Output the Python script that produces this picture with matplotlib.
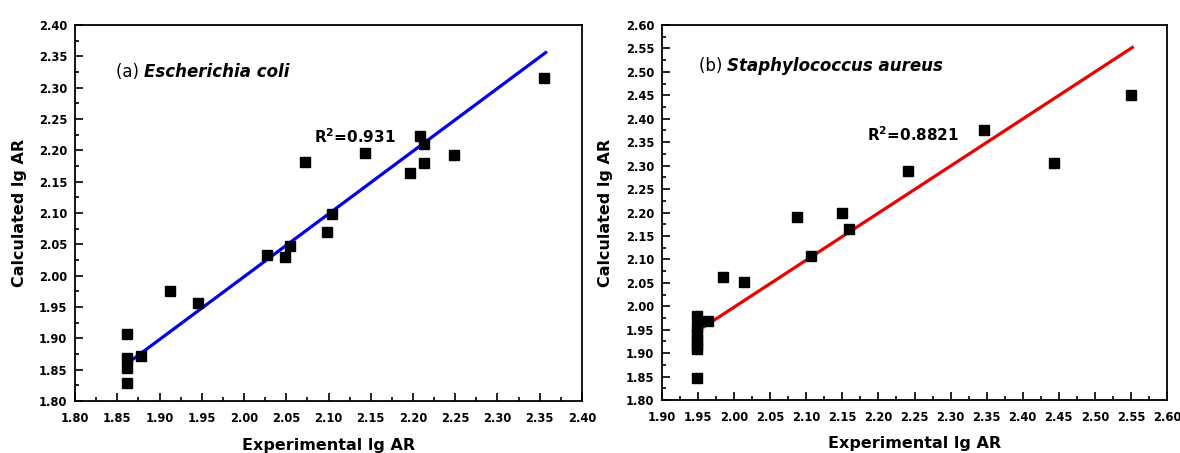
import matplotlib
matplotlib.use("Agg")
import matplotlib.pyplot as plt
from matplotlib.ticker import MultipleLocator, AutoMinorLocator, FormatStrFormatter

plt.rcParams['font.family'] = ['DejaVu Sans']

# (a) Escherichia coli
ec_exp = [1.862, 1.862, 1.862, 1.862, 1.878, 1.913, 1.945, 2.027, 2.048, 2.055,
          2.072, 2.098, 2.104, 2.143, 2.196, 2.208, 2.213, 2.213, 2.248, 2.355]
ec_calc = [1.907, 1.868, 1.852, 1.829, 1.872, 1.976, 1.957, 2.033, 2.030, 2.047,
           2.181, 2.070, 2.099, 2.195, 2.164, 2.223, 2.210, 2.179, 2.193, 2.315]
ec_fit_x = [1.862, 2.357]
ec_fit_y = [1.860, 2.356]

# (b) Staphylococcus aureus
sa_exp = [1.949, 1.949, 1.949, 1.949, 1.949, 1.949, 1.949, 1.964, 1.985, 2.014,
          2.087, 2.106, 2.149, 2.159, 2.241, 2.346, 2.444, 2.550]
sa_calc = [1.846, 1.979, 1.955, 1.940, 1.928, 1.918, 1.908, 1.969, 2.062, 2.051,
           2.190, 2.107, 2.198, 2.165, 2.288, 2.375, 2.306, 2.451]
sa_fit_x = [1.949, 2.552]
sa_fit_y = [1.947, 2.552]

W, H = 1180, 453
fig = plt.figure(figsize=(W / 100, H / 100), dpi=100)

def px_axes(l, t, r, b):
    return fig.add_axes([l / W, 1 - b / H, (r - l) / W, (b - t) / H])

ax1 = px_axes(75, 25, 582, 401)
ax2 = px_axes(662, 25, 1167, 400)

def style(ax, xlim, ylim, ylab_x, xlab_y):
    ax.set_xlim(*xlim)
    ax.set_ylim(*ylim)
    ax.xaxis.set_major_locator(MultipleLocator(0.05))
    ax.yaxis.set_major_locator(MultipleLocator(0.05))
    ax.xaxis.set_minor_locator(AutoMinorLocator(2))
    ax.yaxis.set_minor_locator(AutoMinorLocator(2))
    ax.xaxis.set_major_formatter(FormatStrFormatter('%.2f'))
    ax.yaxis.set_major_formatter(FormatStrFormatter('%.2f'))
    ax.tick_params(which='both', direction='in', top=False, right=False, width=1.2)
    ax.tick_params(which='major', length=5.8, labelsize=8.3)
    ax.tick_params(which='minor', length=3)
    ax.tick_params(axis='x', which='major', pad=8)
    ax.tick_params(axis='y', which='major', pad=5.5)
    for s in ax.spines.values():
        s.set_linewidth(1.3)
    ax.set_xlabel('Experimental lg AR', fontsize=11.5, fontweight='bold')
    ax.set_ylabel('Calculated lg AR', fontsize=11.5, fontweight='bold')
    ax.xaxis.label.set_va('center')
    ax.yaxis.label.set_va('center')
    ax.xaxis.set_label_coords(0.5, xlab_y)
    ax.yaxis.set_label_coords(ylab_x, 0.5)

style(ax1, (1.80, 2.40), (1.80, 2.40), -0.110, -0.119)
style(ax2, (1.90, 2.60), (1.80, 2.60), -0.111, -0.115)

ax1.plot(ec_fit_x, ec_fit_y, color='#0000ee', lw=2.3, zorder=2)
ax1.plot(ec_exp, ec_calc, 's', color='black', markersize=7, zorder=3)
ax2.plot(sa_fit_x, sa_fit_y, color='#ee0000', lw=2.3, zorder=2)
ax2.plot(sa_exp, sa_calc, 's', color='black', markersize=7, zorder=3)

for ax in (ax1, ax2):
    for lab in ax.get_xticklabels() + ax.get_yticklabels():
        lab.set_fontweight('bold')

def label(ax, x, y, tag, name, r2x, r2y, r2):
    t = ax.text(x, y, tag + ' ', transform=ax.transAxes, fontsize=12, va='center', ha='left')
    fig.canvas.draw()
    bb = t.get_window_extent().transformed(ax.transAxes.inverted())
    ax.text(bb.x1, y, name, transform=ax.transAxes, fontsize=12,
            fontweight='bold', style='italic', va='center', ha='left')
    ax.text(r2x, r2y, r'R$^{\mathbf{2}}$=' + r2, transform=ax.transAxes, fontsize=11,
            fontweight='bold', va='center', ha='left')

label(ax1, 0.081, 0.875, '(a)', 'Escherichia coli', 0.472, 0.702, '0.931')
label(ax2, 0.073, 0.891, '(b)', 'Staphylococcus aureus', 0.406, 0.707, '0.8821')

fig.savefig('out.png', dpi=100)
